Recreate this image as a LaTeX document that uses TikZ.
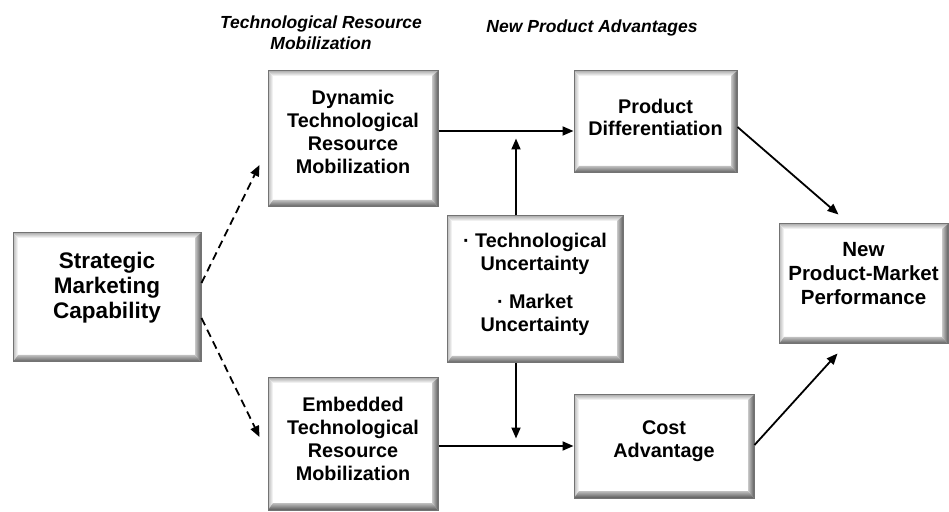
\documentclass[tikz,border=0pt]{standalone}
\usepackage{fontspec}
\setmainfont{Liberation Sans}
\usetikzlibrary{arrows.meta,shadings}

\begin{document}
\begin{tikzpicture}[x=1pt,y=1pt,
  bevelbox/.style={
    rectangle, draw=black!55, line width=1pt, fill=white, inner sep=0pt,
    path picture={
      \coordinate (bnw) at (path picture bounding box.north west);
      \coordinate (bne) at (path picture bounding box.north east);
      \coordinate (bsw) at (path picture bounding box.south west);
      \coordinate (bse) at (path picture bounding box.south east);
      % top and left bevels (lit)
      \shade[top color=black!30, bottom color=white]
        (bnw) -- (bne) -- ([shift={(-5,-5)}]bne) -- ([shift={(5,-5)}]bnw) -- cycle;
      \shade[left color=black!28, right color=white]
        (bnw) -- ([shift={(5,-5)}]bnw) -- ([shift={(5,7)}]bsw) -- (bsw) -- cycle;
      % right and bottom bevels (shaded)
      \shade[left color=black!22, right color=black!62]
        (bne) -- (bse) -- ([shift={(-6,7)}]bse) -- ([shift={(-6,-5)}]bne) -- cycle;
      \shade[top color=black!25, bottom color=black!65]
        (bsw) -- (bse) -- ([shift={(-6,7)}]bse) -- ([shift={(5,7)}]bsw) -- cycle;
    }},
  boxtext/.style={align=center, font=\fontsize{19.8}{22.8}\selectfont\bfseries},
  bigtext/.style={align=center, font=\fontsize{22.5}{25}\selectfont\bfseries},
  headtext/.style={align=center, font=\fontsize{17.5}{21.5}\selectfont\bfseries\itshape},
  arr/.style={line width=1.8pt, -{Triangle[length=11pt,width=9pt]}},
  dasharr/.style={arr, dash pattern=on 8pt off 5pt}
]
\useasboundingbox (0,0) rectangle (949,511);

% column headings
\node[headtext] (h1) at (321,478) {Technological Resource\\Mobilization};
\node[headtext] (h2) at (592,483) {New Product Advantages};

% boxes
\node[bevelbox, minimum width=188, minimum height=129,
  label={[bigtext, yshift=10]center:{Strategic\\Marketing\\Capability}}]
  (smc) at (107,213.5) {};
\node[bevelbox, minimum width=170, minimum height=136,
  label={[boxtext, yshift=7]center:{Dynamic\\Technological\\Resource\\Mobilization}}]
  (dyn) at (353,372) {};
\node[bevelbox, minimum width=170, minimum height=132,
  label={[boxtext, yshift=5]center:{Embedded\\Technological\\Resource\\Mobilization}}]
  (emb) at (353,67) {};
\node[bevelbox, minimum width=176, minimum height=147,
  label={[boxtext, yshift=5]center:{· Technological\\Uncertainty\\[15pt]· Market\\Uncertainty}}]
  (mid) at (535,221.5) {};
\node[bevelbox, minimum width=163, minimum height=102,
  label={[boxtext, yshift=4.5]center:{Product\\Differentiation}}]
  (pd) at (655.5,389) {};
\node[bevelbox, minimum width=180, minimum height=103,
  label={[boxtext, yshift=5]center:{Cost\\Advantage}}]
  (cost) at (664,64.5) {};
\node[bevelbox, minimum width=169, minimum height=120,
  label={[boxtext, font=\fontsize{20.5}{24}\selectfont\bfseries, yshift=10]center:{New\\Product-Market\\Performance}}]
  (npm) at (863.5,227) {};

% connectors
\draw[dasharr] ([yshift=14.5]smc.east) -- ([xshift=-8,yshift=-26]dyn.west);
\draw[dasharr] ([yshift=-20.5]smc.east) -- ([xshift=-8,yshift=7]emb.west);
\draw[arr] ([yshift=8]dyn.east) -- ([yshift=8]dyn.east -| pd.west);
\draw[arr] ([yshift=-2]emb.east) -- ([yshift=-2]emb.east -| cost.west);
\draw[arr] ([xshift=-19]mid.north) -- ++(0,77);
\draw[arr] ([xshift=-19]mid.south) -- ++(0,-75);
\draw[arr] ([yshift=-5]pd.east) -- ([xshift=-25,yshift=9]npm.north);
\draw[arr] ([yshift=1.5]cost.east) -- ([xshift=-26,yshift=-9]npm.south);
\end{tikzpicture}
\end{document}
